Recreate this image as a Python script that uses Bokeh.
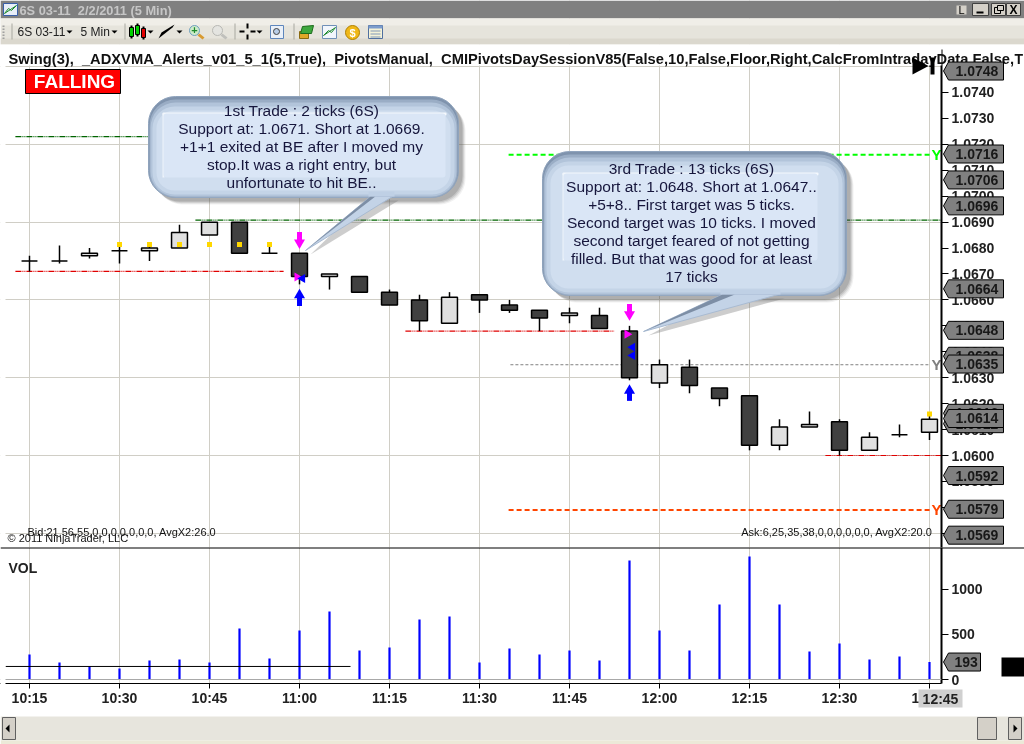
from bokeh.plotting import figure
from bokeh.models import (ColumnDataSource, FixedTicker, Grid, Range1d, Label, BoxAnnotation,
                          PolyAnnotation, Span, NumeralTickFormatter)
from bokeh.layouts import column
from bokeh.core.properties import value
from bokeh.embed import file_html
from bokeh.resources import INLINE

# ---------- data ----------
opens  = [1.0675,1.0675,1.0677,1.0679,1.0679,1.0680,1.0685,1.0690,1.0678,1.0678,1.0669,1.0669,1.0663,1.0660,1.0651,1.0662,
          1.0658,1.0656,1.0654,1.0654,1.0648,1.0628,1.0634,1.0626,1.0623,1.0604,1.0611,1.0613,1.0602,1.0608,1.0609]
highs  = [1.0677,1.0681,1.0680,1.0681,1.0681,1.0689,1.0690,1.0690,1.0681,1.0678,1.0670,1.0669,1.0664,1.0662,1.0663,1.0662,
          1.0660,1.0656,1.0657,1.0657,1.0650,1.0637,1.0637,1.0626,1.0623,1.0614,1.0617,1.0614,1.0609,1.0612,1.0616]
lows   = [1.0671,1.0674,1.0676,1.0674,1.0675,1.0680,1.0685,1.0678,1.0678,1.0666,1.0664,1.0663,1.0658,1.0648,1.0651,1.0655,
          1.0655,1.0648,1.0651,1.0649,1.0629,1.0626,1.0624,1.0619,1.0602,1.0602,1.0611,1.0600,1.0602,1.0607,1.0606]
closes = [1.0675,1.0675,1.0678,1.0679,1.0680,1.0686,1.0690,1.0678,1.0678,1.0669,1.0670,1.0663,1.0658,1.0652,1.0661,1.0660,
          1.0656,1.0653,1.0655,1.0649,1.0630,1.0635,1.0627,1.0622,1.0604,1.0611,1.0612,1.0602,1.0607,1.0608,1.0614]
volumes = [276,188,144,122,210,221,188,564,232,541,751,320,354,663,696,188,343,276,320,210,1315,541,320,829,1359,829,309,398,221,254,193]
time_labels = {0:"10:15",3:"10:30",6:"10:45",9:"11:00",12:"11:15",15:"11:30",18:"11:45",21:"12:00",24:"12:15",27:"12:30",30:"12:45"}
price_ticks = [1.0570,1.0580,1.0590,1.0600,1.0610,1.0620,1.0630,1.0640,1.0650,1.0660,1.0670,1.0680,1.0690,1.0700,1.0710,1.0720,1.0730,1.0740]
price_grid = [1.0570,1.0600,1.0630,1.0660,1.0690,1.0720,1.0750]
vol_ticks = [0,500,1000]
swing_idx = [3,4,5,6,7,8,30]
swing_price = [1.06814,1.06814,1.06814,1.06814,1.06814,1.06814,1.0616]
tag_prices = [1.0748,1.0716,1.0706,1.0696,1.0664,1.0648,1.0638,1.0635,1.0616,1.0612,1.0614,1.0592,1.0579,1.0569]
down_idx = [9,20]; down_head = [1.06821,1.06544]; down_shaft = [1.06845,1.06567]
up_idx = [9,20]; up_head = [1.06619,1.0625]; up_shaft = [1.06594,1.06228]
entry_x = [8.92,19.92]; entry_p = [1.06688,1.06468]
exit_x = [9.1,20.1,20.1]; exit_p = [1.06683,1.06417,1.06386]
red_x0 = [-0.47,12.53,26.53]; red_x1 = [8.47,19.5,30.4]; red_p = [1.0671,1.0648,1.0600]
dkgreen_x0 = [-0.47,5.53]; dkgreen_x1 = [4.7,30.4]; dkgreen_p = [1.0723,1.06908]
target_x0 = [15.97,16.03,15.97]; target_x1 = [30.03,30.03,30.03]; target_p = [1.0716,1.0635,1.0579]
target_colors = ["#00FF00","#808080","#FF4500"]; target_width = [2,1,2]; target_dash = ["5 3","3 2","5 3"]
vol_avg_x = [-0.8,10.7]; vol_avg = [144,144]
trade1 = ["1st Trade : 2 ticks (6S)","Support at: 1.0671. Short at 1.0669.","+1+1 exited at BE after I moved my","stop.It was a right entry, but","unfortunate to hit BE.."]
trade3 = ["3rd Trade : 13 ticks (6S)","Support at: 1.0648. Short at 1.0647..","+5+8.. First target was 5 ticks.","Second target was 10 ticks. I moved","second target feared of not getting","filled. But that was good for at least","17 ticks"]
indicators = "Swing(3),\u00a0\u00a0_ADXVMA_Alerts_v01_5_1(5,True),\u00a0\u00a0PivotsManual,\u00a0\u00a0CMIPivotsDaySessionV85(False,10,False,Floor,Right,CalcFromIntradayData False,"

FONT = "Liberation Sans"
GRID = "#D0CEC6"
idx = list(range(len(opens)))
X0, X1 = -29/30, (941-29)/30
xr = Range1d(X0, X1)
P_PER_PX = 1/25930
tick_x = sorted(time_labels)

def price_y(pr):
    return 455 - (pr - 1.06) / P_PER_PX

# ---------- transparent full-page layer for window chrome, tags and callouts ----------
ov = figure(frame_width=1024, frame_height=744, min_border=0, x_range=Range1d(0, 1024), y_range=Range1d(744, 0),
            x_axis_location=None, y_axis_location=None, output_backend="svg", toolbar_location=None, tools="",
            outline_line_color=None, background_fill_alpha=0, border_fill_alpha=0,
            styles={"position": "absolute", "left": "0", "top": "0"})
ov.grid.visible = False

def box(x0, y0, x1, y1, fill, line=None, r=0, alpha=1.0, lw=1):
    ov.add_layout(BoxAnnotation(left=x0, right=x1, top=y0, bottom=y1, left_units="canvas", right_units="canvas",
                                top_units="canvas", bottom_units="canvas", fill_color=fill, fill_alpha=alpha,
                                line_color=line, line_alpha=1 if line else 0, line_width=lw, border_radius=r))
def poly(xs, ys, fill, line=None, alpha=1.0):
    ov.add_layout(PolyAnnotation(xs=xs, ys=ys, xs_units="canvas", ys_units="canvas", fill_color=fill,
                                 fill_alpha=alpha if fill else 0, line_color=line, line_alpha=1 if line else 0, line_width=1))
def lab(x, y, text, size=12, color="#000000", style="normal", align="left", font=FONT):
    ov.add_layout(Label(x=x, y=y, x_units="canvas", y_units="canvas", text=text, text_font=font, text_font_size=f"{size}px",
                        text_color=color, text_font_style=style, text_align=align, text_baseline="middle"))

# ---------- price panel ----------
p1 = figure(frame_width=941, frame_height=547, min_border_left=0, min_border_top=0, min_border_bottom=0, min_border_right=83,
            x_range=xr, y_range=Range1d(1.06+(455-547)*P_PER_PX, 1.06+455*P_PER_PX), x_axis_location=None, y_axis_location="right",
            output_backend="svg", toolbar_location=None, outline_line_color=None, background_fill_color="#FFFFFF", tools="")
p1.grid.visible = False
p1.add_layout(Grid(dimension=0, ticker=FixedTicker(ticks=tick_x), grid_line_color=GRID, grid_line_width=1))
p1.add_layout(Grid(dimension=1, ticker=FixedTicker(ticks=price_grid), grid_line_color=GRID, grid_line_width=1))
ax = p1.yaxis[0]
ax.ticker = FixedTicker(ticks=price_ticks)
ax.formatter = NumeralTickFormatter(format="0.0000")
ax.bounds = (1.06+(455-547)*P_PER_PX, 1.06+(455-49)*P_PER_PX)
ax.axis_line_width = 2; ax.axis_line_color = "#000000"
ax.major_tick_in = 0; ax.major_tick_out = 7; ax.minor_tick_line_color = None
ax.major_tick_line_color = "#000000"
ax.major_label_standoff = 3
ax.major_label_text_font = FONT; ax.major_label_text_font_size = "14px"; ax.major_label_text_font_style = "bold"
ax.major_label_text_color = "#222222"

p1.segment(x0=red_x0, x1=red_x1, y0=red_p, y1=red_p, line_color="#E00000", line_width=1.2, line_dash="6 1 1 1 1 1")
p1.segment(x0=dkgreen_x0, x1=dkgreen_x1, y0=dkgreen_p, y1=dkgreen_p, line_color="#006400", line_width=1.2, line_dash="6 1 1 1 1 1")
for a, b, c, col, w, d in zip(target_x0, target_x1, target_p, target_colors, target_width, target_dash):
    p1.segment(x0=[a], x1=[b], y0=[c], y1=[c], line_color=col, line_width=w, line_dash=d)
    p1.text(x=[30.23], y=[c], text=["Y"], text_color=col, text_font=value(FONT), text_font_size="15px", text_font_style="bold",
            text_align="center", text_baseline="middle")

src = ColumnDataSource(dict(i=idx, o=opens, h=highs, l=lows, c=closes,
                            top=[max(a, b) for a, b in zip(opens, closes)], bot=[min(a, b) for a, b in zip(opens, closes)],
                            color=["#404040" if c < o else "#E0E0E0" for o, c in zip(opens, closes)]))
p1.segment(x0="i", x1="i", y0="l", y1="h", source=src, line_color="#000000", line_width=1.5)
p1.vbar(x="i", top="top", bottom="bot", width=0.53, source=src, fill_color="color", line_color="#000000", line_width=1.5)
p1.scatter(x=swing_idx, y=swing_price, marker="square", size=5, fill_color="#FFD700", line_color=None)

ARM = "#FF00FF"; ARB = "#0000FF"
p1.rect(x=down_idx, y=down_shaft, width=5, height=9, width_units="screen", height_units="screen", fill_color=ARM, line_color=None)
p1.scatter(x=down_idx, y=down_head, marker="inverted_triangle", size=11, fill_color=ARM, line_color=None)
p1.rect(x=up_idx, y=up_shaft, width=5, height=9, width_units="screen", height_units="screen", fill_color=ARB, line_color=None)
p1.scatter(x=up_idx, y=up_head, marker="triangle", size=11, fill_color=ARB, line_color=None)
p1.scatter(x=entry_x, y=entry_p, marker="triangle", size=9, angle=-1.5708, fill_color=ARM, line_color=None)
p1.scatter(x=exit_x, y=exit_p, marker="triangle", size=9, angle=1.5708, fill_color=ARB, line_color=None)

# ---------- volume panel ----------
V_PER_PX = 1/0.0905
p2 = figure(frame_width=941, frame_height=136, min_border_left=0, min_border_top=0, min_border_bottom=61, min_border_right=83,
            x_range=xr, y_range=Range1d((679-683)*V_PER_PX, (679-547)*V_PER_PX), y_axis_location="right",
            output_backend="svg", toolbar_location=None, outline_line_color=None, background_fill_color="#FFFFFF", tools="")
p2.grid.visible = False
p2.add_layout(Grid(dimension=0, ticker=FixedTicker(ticks=tick_x), grid_line_color=GRID, grid_line_width=1))
ay = p2.yaxis[0]
ay.ticker = FixedTicker(ticks=vol_ticks)
ay.axis_line_width = 2; ay.axis_line_color = "#000000"
ay.major_tick_in = 0; ay.major_tick_out = 7; ay.minor_tick_line_color = None
ay.major_label_standoff = 3
ay.major_label_text_font = FONT; ay.major_label_text_font_size = "14px"; ay.major_label_text_font_style = "bold"
ay.major_label_text_color = "#222222"
bx_ = p2.xaxis[0]
bx_.ticker = FixedTicker(ticks=tick_x)
bx_.major_label_overrides = {k: v for k, v in time_labels.items()}
bx_.axis_line_color = "#000000"; bx_.major_tick_in = 0; bx_.major_tick_out = 5; bx_.minor_tick_line_color = None
bx_.major_label_standoff = 1
bx_.major_label_text_font = FONT; bx_.major_label_text_font_size = "14px"; bx_.major_label_text_font_style = "bold"
bx_.major_label_text_color = "#222222"

p2.add_layout(Span(location=0, dimension="width", line_color="#A8A8A8", line_width=1))
p2.vbar(x=idx, top=volumes, bottom=0, width=2.2/30, fill_color="#0000FF", line_color=None)
p2.line(x=vol_avg_x, y=vol_avg, line_color="#000000", line_width=1)

# ---------- overlay contents ----------
box(0, 44, 5, 690, "#FFFFFF")
box(0, 44, 941, 65, "#FFFFFF")
box(0, 547, 1024, 548, "#000000")

def callout(x0, y0, x1, y1, tail, inner, lines, cx, ytop):
    bx, by = tail
    for k, a in enumerate([0.08, 0.12, 0.16, 0.20]):
        box(x0+8-k, y0+8-k, x1+7-k, y1+7-k, "#505050", r=26, alpha=a)
    poly([bx[0]-4, bx[1]+6, bx[2]+5], [by[0]+4, by[1]+4, by[2]+4], "#707070", alpha=0.35)
    box(x0, y0, x1, y1, "#7F93AD", r=27, line="#8FA3BC")
    box(x0+1, y0+3, x1-1, y1, "#9AADC5", r=26)
    box(x0+2, y0+6, x1-2, y1-1, "#B2C4DA", r=25)
    box(x0+4, y0+10, x1-4, y1-3, "#C4D4E7", r=22)
    box(x0+8, y0+14, x1-8, y1-7, "#D0DEEF", r=18)
    ix0, iy0, ix1, iy1 = inner
    box(ix0-1, iy0-1, ix1+1, iy0+2, "#F4F8FD", r=1)
    box(ix0-1, iy0, ix0+1, iy1, "#EEF4FB")
    box(ix0, iy0, ix1, iy1, "#DAE6F6", r=3)
    poly(bx, by, "#C3D3E7", line="#A9BBD2")
    poly([bx[0], bx[2], bx[0]+(bx[1]-bx[0])*0.22], [by[0], by[2], by[0]], "#7D8EA5")
    box(bx[0]-2, y1-6, bx[1]+2, y1-1, "#BFD0E5")
    for n, t in enumerate(lines):
        lab(cx, ytop+n*18.05, t, size=15.5, color="#16163C", align="center")

callout(148, 96, 458, 197, ([370, 392, 305], [196, 196, 250]), (163, 113, 445, 177), trade1, 301, 110)
callout(542, 151, 846, 295, ([722, 778, 643], [294, 294, 331]), (563, 173, 817, 260), trade3, 691, 168)

# title bar / toolbar
box(0, 0, 1024, 18, "#808080")
box(3, 3, 17, 15, "#E8EEF8", line="#3A5FA8")
poly([4, 8, 11, 16], [13, 8, 10, 5], None, line="#1E8A2E")
lab(19, 9.5, "6S 03-11\u00a0\u00a02/2/2011 (5 Min)", size=12.8, color="#C6C6C6", style="bold")
box(956, 5, 966, 14, "#D4D0C8"); lab(961, 9.5, "L", size=11, color="#000000", align="center")
for a, b in [(972, 988), (991, 1005), (1006, 1020)]:
    box(a, 3, b, 15, "#D4D0C8", line="#404040")
box(976, 11, 983, 13, "#000000")
box(994, 7, 1000, 13, "#D4D0C8", line="#000000"); box(997, 5, 1003, 10, "#D4D0C8", line="#000000")
lab(1013, 9, "X", size=12, style="bold", align="center")
box(0, 18, 1024, 44, "#E6E4DC")
box(0, 18, 1024, 25, "#F0EEE8")
box(0, 38, 1024, 44, "#DBD8CE")
box(0, 44, 1024, 46, "#FFFFFF")
for yy in (25, 28, 31, 34, 37):
    box(2, yy, 4, yy+1.5, "#A0A0A0")
for sx in (11, 124, 234, 293):
    box(sx, 23, sx+1, 39, "#A8A8A0")
lab(17, 31.5, "6S 03-11", size=12, color="#222222")
lab(80, 31.5, "5 Min", size=12, color="#222222")
for ax0 in (66, 111, 147, 176, 256):
    poly([ax0, ax0+6, ax0+3], [30, 30, 33], "#000000")
for cx, c, t, b in [(131, "#00D000", 27, 36), (137, "#00D000", 25, 34), (143, "#E00000", 28, 37)]:
    box(cx-1, t-2, cx+1, b+2, "#000000"); box(cx-2, t, cx+2, b, c, line="#000000")
poly([158, 161, 174, 172], [38, 32, 24, 27], "#000000")
box(189, 25, 199, 35, "#CDEBC8", line="#6F9FC0", r=5); lab(194, 29.5, "+", size=11, color="#1E8A2E", style="bold", align="center")
poly([197, 199, 204, 202], [35, 33, 37, 39], "#D89A30")
box(212, 25, 222, 35, "#E4E4E0", line="#B8B8B4", r=5); poly([220, 222, 227, 225], [35, 33, 37, 39], "#C0C0BC")
box(246, 23, 248, 28, "#000000"); box(246, 34, 248, 39, "#000000")
box(239, 30, 244, 32, "#000000"); box(250, 30, 255, 32, "#000000")
box(270, 25, 283, 38, "#EAF0F8", line="#5E86BC"); box(273, 28, 279, 34, "#B8CDE8", line="#404040", r=3)
box(299, 31, 308, 38, "#E0A828", line="#8A6A10"); poly([302, 313, 311, 300], [26, 25, 33, 33], "#3EA83E", line="#1C6C1C")
box(322, 25, 336, 38, "#F2F6FC", line="#7090B8"); poly([323, 328, 331, 335], [35, 30, 32, 27], None, line="#1E8A2E")
box(345, 25, 359, 39, "#F0B818", line="#B08000", r=7); lab(352, 32, "$", size=11, color="#FFFFFF", style="bold", align="center")
box(368, 25, 382, 38, "#F4F2D8", line="#5070A0"); box(368, 25, 382, 28, "#7C9CCC")
for yy in (30, 33, 36):
    box(370, yy, 380, yy+1, "#8098B8")

# header text and state label
lab(8, 58, indicators, size=14.7, color="#111111", style="bold")
lab(1014, 58, "T", size=14, color="#111111", style="bold")
box(25, 69, 120, 93, "#FF0000", line="#000000")
lab(74, 81, "FALLING", size=19, color="#FFFFFF", style="bold", align="center")
poly([912, 912, 928], [57, 74, 65.5], "#000000")
box(930, 57, 934, 74, "#000000")
lab(27, 531, "Bid:21,56,55,0,0,0,0,0,0,0, AvgX2:26.0", size=11, color="#111111")
lab(7, 537, "\u00a9 2011 NinjaTrader, LLC", size=11, color="#111111")
lab(932, 531, "Ask:6,25,35,38,0,0,0,0,0,0, AvgX2:20.0", size=11, color="#111111", align="right")

# price tags
for tp in tag_prices:
    yc = price_y(tp) - 0.7
    poly([943, 948, 1003, 1003, 948], [yc, yc-9, yc-9, yc+9, yc+9], "#808080", line="#000000")
    lab(955, yc, f"{tp:.4f}", size=14, color="#181818", style="bold")

# volume panel extras
lab(8, 567, "VOL", size=14, color="#222222", style="bold")
vc = 679 - volumes[-1] * 0.0905
poly([943, 948, 980, 980, 948], [vc, vc-9, vc-9, vc+9, vc+9], "#808080", line="#000000")
lab(954, vc, str(volumes[-1]), size=14, color="#181818", style="bold")
box(1001, 657, 1024, 676, "#000000")
box(918, 689, 962, 707, "#D0D0D0")
lab(940, 698, time_labels[30], size=14, color="#222222", style="bold", align="center")
# scrollbar
box(0, 716, 1024, 740, "#E7E5DD")
box(0, 740, 1024, 744, "#ECE9D8")
box(2, 717, 15, 739, "#D4D0C8", line="#606060"); poly([5, 9, 9], [728, 724, 732], "#000000")
box(977, 717, 996, 739, "#D4D0C8", line="#606060")
box(1008, 717, 1021, 739, "#D4D0C8", line="#606060"); poly([1017, 1013, 1013], [728, 724, 732], "#000000")

page = column(p1, p2, ov, spacing=0, styles={"position": "fixed", "left": "0", "top": "0"})
open("out.html", "w").write(file_html(page, INLINE))
